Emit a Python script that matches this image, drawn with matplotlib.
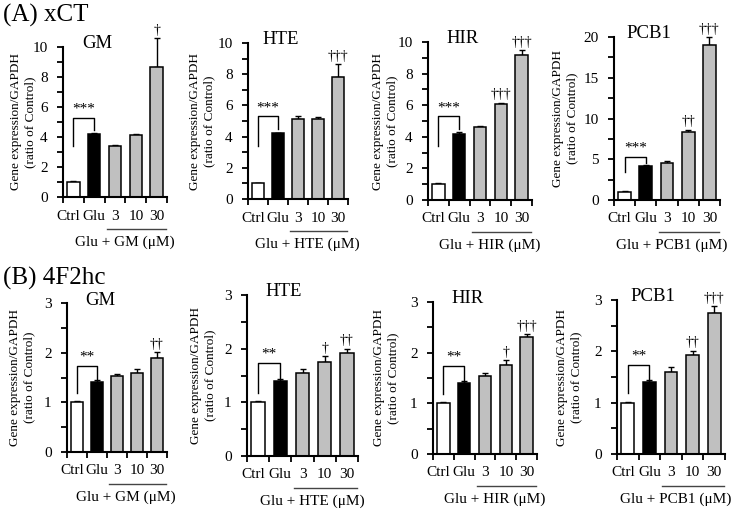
import matplotlib
matplotlib.use("Agg")
import matplotlib.pyplot as plt
from matplotlib import transforms
from matplotlib.ticker import MultipleLocator

plt.rcParams["font.family"] = ["Liberation Serif", "DejaVu Serif"]

categories = ["Ctrl", "Glu", "3", "10", "30"]
compounds = ["GM", "HTE", "HIR", "PCB1"]

# (A) xCT
xct_gm = [1.0, 4.2, 3.4, 4.15, 8.7]
xct_gm_err = [0.05, 0.08, 0.1, 0.07, 1.9]
xct_hte = [1.0, 4.2, 5.1, 5.1, 7.85]
xct_hte_err = [0.05, 0.05, 0.25, 0.15, 0.8]
xct_hir = [1.0, 4.2, 4.65, 6.05, 9.2]
xct_hir_err = [0.05, 0.08, 0.03, 0.1, 0.3]
xct_pcb1 = [1.0, 4.2, 4.5, 8.3, 19.0]
xct_pcb1_err = [0.05, 0.05, 0.3, 0.35, 1.0]
xct_sig = [["", "", "", "", "†"],
           ["", "", "", "", "†††"],
           ["", "", "", "†††", "†††"],
           ["", "", "", "††", "†††"]]

# (B) 4F2hc
f2hc_gm = [1.0, 1.4, 1.53, 1.6, 1.89]
f2hc_gm_err = [0.02, 0.04, 0.05, 0.07, 0.12]
f2hc_hte = [1.0, 1.4, 1.55, 1.76, 1.91]
f2hc_hte_err = [0.02, 0.04, 0.07, 0.1, 0.09]
f2hc_hir = [1.0, 1.4, 1.54, 1.75, 2.31]
f2hc_hir_err = [0.02, 0.04, 0.06, 0.1, 0.06]
f2hc_pcb1 = [1.0, 1.4, 1.6, 1.93, 2.75]
f2hc_pcb1_err = [0.02, 0.04, 0.1, 0.08, 0.13]
f2hc_sig = [["", "", "", "", "††"],
            ["", "", "", "†", "††"],
            ["", "", "", "†", "†††"],
            ["", "", "", "††", "†††"]]

rows = [
    dict(title="(A) xCT", means=[xct_gm, xct_hte, xct_hir, xct_pcb1],
         errs=[xct_gm_err, xct_hte_err, xct_hir_err, xct_pcb1_err],
         sig=xct_sig, stars="***",
         ymax=[10, 10, 10, 20], major=[2, 2, 2, 5], minor=[1, 1, 1, 2.5],
         bracket=(3.4, 5.3, 4.5),
         boxes=[(63, 167, 47, 197), (248, 348, 43, 199),
                (428, 532, 42, 200), (614, 720, 37, 200)],
         ylab_dx=[-42, -48, -45, -51],
         title_y=15),
    dict(title="(B) 4F2hc", means=[f2hc_gm, f2hc_hte, f2hc_hir, f2hc_pcb1],
         errs=[f2hc_gm_err, f2hc_hte_err, f2hc_hir_err, f2hc_pcb1_err],
         sig=f2hc_sig, stars="**",
         ymax=[3, 3, 3, 3], major=[1, 1, 1, 1], minor=[0.5, 0.5, 0.5, 0.5],
         bracket=(1.18, 1.74, 1.45),
         boxes=[(67, 167, 303, 452), (247, 358, 295, 456),
                (433, 537, 302, 454), (617, 725, 300, 454)],
         ylab_dx=[-47, -46, -49, -50],
         title_y=278),
]
group_label_x = [2.45, 2.45, 2.45, 2.2]

W, H = 733, 512
fig = plt.figure(figsize=(W / 100, H / 100), dpi=100)
colors = ["white", "black", "#c0c0c0", "#c0c0c0", "#c0c0c0"]
x = list(range(len(categories)))

for row in rows:
    fig.text(3 / W, 1 - row["title_y"] / H, row["title"], fontsize=18,
             ha="left", va="center")
    for k, name in enumerate(compounds):
        x0, x1, yt, yb = row["boxes"][k]
        ax = fig.add_axes([x0 / W, 1 - yb / H, (x1 - x0) / W, (yb - yt) / H])
        means = row["means"][k]
        errs = row["errs"][k]
        ax.bar(x, means, width=0.6, color=colors, edgecolor="black",
               linewidth=1.1, zorder=2)
        ax.errorbar(x, means, yerr=[[0] * 5, errs], fmt="none", ecolor="black",
                    elinewidth=1.0, capsize=2.5, capthick=1.0, clip_on=False,
                    zorder=1)
        ax.set_xlim(-0.5, 4.5)
        ax.set_ylim(0, row["ymax"][k])
        ax.yaxis.set_major_locator(MultipleLocator(row["major"][k]))
        ax.yaxis.set_minor_locator(MultipleLocator(row["minor"][k]))
        ax.set_xticks(x)
        ax.set_xticklabels(categories)
        ax.set_xticks([i - 0.5 for i in range(6)], minor=True)
        ax.tick_params(axis="x", which="major", length=0, pad=9, labelsize=11)
        ax.tick_params(axis="x", which="minor", length=4, width=1.3)
        ax.tick_params(axis="y", which="both", length=4, width=1.3, pad=7,
                       labelsize=11)
        # nudge "Ctrl" left so it does not touch "Glu"
        lab = ax.get_xticklabels()[0]
        lab.set_transform(lab.get_transform() +
                          transforms.ScaledTranslation(-5 / 100, 0, fig.dpi_scale_trans))
        for s in ["top", "right"]:
            ax.spines[s].set_visible(False)
        for s in ["left", "bottom"]:
            ax.spines[s].set_linewidth(1.5)
        ax.set_ylabel("Gene expression/GAPDH\n(ratio of Control)", fontsize=9.5,
                      linespacing=1.25)
        # label anchor is its right edge; ylab_dx is the centre of the block
        ax.yaxis.set_label_coords((row["ylab_dx"][k] + 15.5) / (x1 - x0), 0.5)
        ax.text(0.33, 1.02, name, transform=ax.transAxes, fontsize=13.5,
                ha="center", va="center")

        # significance bracket Ctrl vs Glu
        lo, top, rlo = row["bracket"]
        ax.plot([0, 0, 1, 1], [lo, top, top, rlo], color="black", lw=1.0,
                clip_on=False)
        ax.annotate(row["stars"], (0.5, top), xytext=(0, 6),
                    textcoords="offset points", ha="center", va="center",
                    fontsize=11)

        # daggers
        for i, s in enumerate(row["sig"][k]):
            if s:
                ax.annotate(s, (i, means[i] + errs[i]), xytext=(0, 1),
                            textcoords="offset points", ha="center",
                            va="bottom", fontsize=10, annotation_clip=False)

        # group underline and label
        tr = transforms.blended_transform_factory(ax.transData, ax.transAxes)
        tr_line = tr + transforms.ScaledTranslation(0, -32 / 100, fig.dpi_scale_trans)
        ax.plot([1.6, 4.45], [0, 0], color="#444444", lw=1.0,
                transform=tr_line, clip_on=False)
        tr_text = tr + transforms.ScaledTranslation(0, -45 / 100, fig.dpi_scale_trans)
        ax.text(group_label_x[k], 0, f"Glu + {name} (μM)", transform=tr_text,
                fontsize=11, ha="center", va="center")

fig.savefig("out.png", dpi=100, facecolor="white")
